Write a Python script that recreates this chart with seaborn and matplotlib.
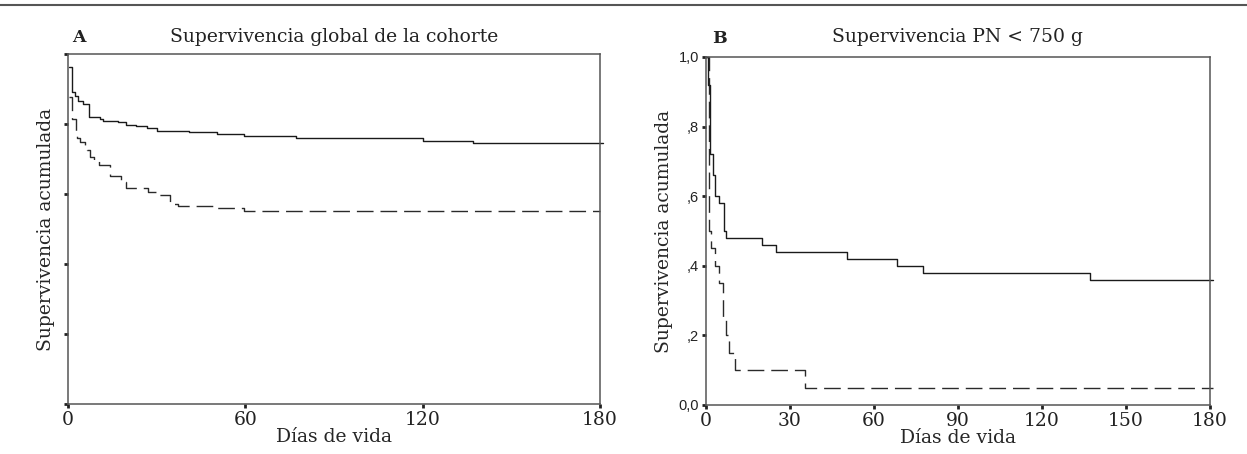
import numpy as np
import matplotlib
matplotlib.use('Agg')
import matplotlib.pyplot as plt
import seaborn as sns

# Kaplan-Meier curves (days, cumulative survival)
# Panel A: whole cohort
a_solid_t = [0.4, 1.2, 2.3, 3.4, 5.0, 7.2, 10.8, 11.9, 16.9, 19.7, 23.0, 26.8, 30.2, 41.0, 50.5, 59.6, 77.0, 120.0, 137.0, 181.0]
a_solid_s = [0.964, 0.892, 0.880, 0.867, 0.857, 0.820, 0.814, 0.809, 0.805, 0.798, 0.794, 0.790, 0.780, 0.776, 0.771, 0.767, 0.760, 0.752, 0.747, 0.747]
a_dash_t = [0.5, 1.2, 2.6, 3.0, 4.2, 5.6, 6.4, 7.5, 8.7, 10.5, 14.2, 18.1, 19.7, 27.1, 30.0, 34.4, 37.2, 49.0, 59.6, 180.0]
a_dash_s = [0.877, 0.814, 0.769, 0.760, 0.750, 0.736, 0.726, 0.707, 0.698, 0.683, 0.652, 0.633, 0.617, 0.605, 0.598, 0.571, 0.565, 0.560, 0.551, 0.551]

# Panel B: PN < 750 g
b_solid_t = [0.0, 0.6, 1.3, 2.4, 3.2, 4.6, 6.4, 7.2, 20.1, 25.1, 50.5, 68.2, 77.4, 137.0, 181.0]
b_solid_s = [1.0, 0.92, 0.72, 0.66, 0.60, 0.58, 0.50, 0.48, 0.46, 0.44, 0.42, 0.40, 0.38, 0.36, 0.36]
b_dash_t = [0.0, 1.2, 1.9, 3.1, 4.6, 6.2, 7.2, 8.2, 10.3, 35.2, 181.0]
b_dash_s = [1.0, 0.50, 0.45, 0.40, 0.35, 0.25, 0.20, 0.15, 0.10, 0.05, 0.05]

a_xticks = [0, 60, 120, 180]
b_xticks = [0, 30, 60, 90, 120, 150, 180]
yticks = [0.0, 0.2, 0.4, 0.6, 0.8, 1.0]
b_ylabels = ['0,0', ',2', ',4', ',6', ',8', '1,0']

sns.set_style('ticks')
plt.rcParams['font.family'] = ['DejaVu Serif']
plt.rcParams['text.color'] = '#222222'
plt.rcParams['xtick.labelcolor'] = '#222222'
plt.rcParams['ytick.labelcolor'] = '#222222'

fig = plt.figure(figsize=(12.47, 4.54), dpi=100)
axA = fig.add_axes([0.0545, 0.110, 0.4267, 0.771])
axB = fig.add_axes([0.5662, 0.108, 0.4042, 0.7665])

dash = (0, (12, 5))
for ax, st, ss, dt, ds in [(axA, a_solid_t, a_solid_s, a_dash_t, a_dash_s),
                           (axB, b_solid_t, b_solid_s, b_dash_t, b_dash_s)]:
    sns.lineplot(x=dt, y=ds, ax=ax, color='#2a2a2a', linewidth=1.0,
                 drawstyle='steps-post', estimator=None, sort=False,
                 linestyle=dash, clip_on=False)
    sns.lineplot(x=st, y=ss, ax=ax, color='#1a1a1a', linewidth=1.0,
                 drawstyle='steps-post', estimator=None, sort=False, clip_on=False)
    ax.set_xlim(0, 180)
    ax.set_ylim(0, 1)
    ax.set_yticks(yticks)
    for sp in ax.spines.values():
        sp.set_visible(True)
        sp.set_color('#555555')
        sp.set_linewidth(1.1)
    ax.tick_params(direction='out', length=3, width=2, color='#222222', pad=2,
                   labelsize=13.5, bottom=True, left=True)
    ax.set_xlabel('Días de vida', fontsize=13.5, labelpad=-1)
    ax.set_ylabel('Supervivencia acumulada', fontsize=13.5)

axA.set_xticks(a_xticks)
axA.set_yticklabels([])
axA.yaxis.set_label_coords(-0.025, 0.5)

axB.set_xticks(b_xticks)
axB.set_yticklabels(b_ylabels, family=['Liberation Sans', 'DejaVu Sans'], fontsize=10.5)
axB.yaxis.set_label_coords(-0.066, 0.5)

# titles and panel letters
fig.text(0.268, 1 - 42 / 454, 'Supervivencia global de la cohorte', ha='center', va='baseline', fontsize=13.5)
fig.text(0.768, 1 - 42 / 454, 'Supervivencia PN < 750 g', ha='center', va='baseline', fontsize=13.5)
fig.text(72 / 1247, 1 - 42 / 454, 'A', ha='left', va='baseline', fontsize=12.5, fontweight='bold')
fig.text(712 / 1247, 1 - 43 / 454, 'B', ha='left', va='baseline', fontsize=12.5, fontweight='bold')

# horizontal rule at the top
fig.add_artist(plt.Line2D([0, 1], [1 - 5 / 454, 1 - 5 / 454], transform=fig.transFigure,
                          color='#555555', linewidth=1.5))

fig.savefig('out.png', dpi=100)
plt.close(fig)
